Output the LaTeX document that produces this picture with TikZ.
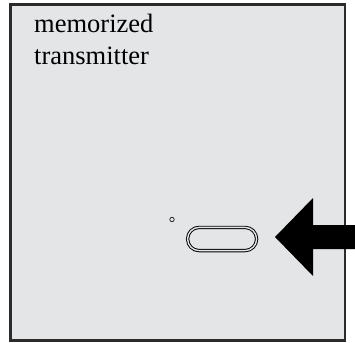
\documentclass[tikz,border=0pt]{standalone}
\usepackage{fontspec}
\setmainfont{Liberation Serif}
\definecolor{panel}{HTML}{E4E5E7}
\definecolor{edge}{HTML}{2B2B2B}
\tikzset{
  lbl/.style={anchor=base west, inner sep=0pt, font=\fontsize{26.5}{30}\selectfont, text=black},
  panelbox/.style={draw=edge, line width=2.4pt, fill=panel},
  buttonshape/.style={draw=black, double=panel, line width=0.95pt, double distance=1.4pt, rounded corners=11.5pt},
}
\begin{document}
\begin{tikzpicture}[x=1pt,y=-1pt]
\useasboundingbox (0,0) rectangle (355,342);
\draw[panelbox] (10.5,4.5) rectangle (345,340.5);
\node[lbl] (t1) at (34,33) {memorized};
\node[lbl] (t2) at (34,65) {transmitter};
\draw[line width=0.6pt] (172,219.5) circle (2.2);
\draw[buttonshape] (187.6,227.4) rectangle (256.6,250.6);
\coordinate (tip) at (275,237);
\fill[black] (tip) -- (313,198) -- (313,225) -- (355,225) -- (355,249) -- (313,249) -- (313,276) -- cycle;
\end{tikzpicture}
\end{document}
